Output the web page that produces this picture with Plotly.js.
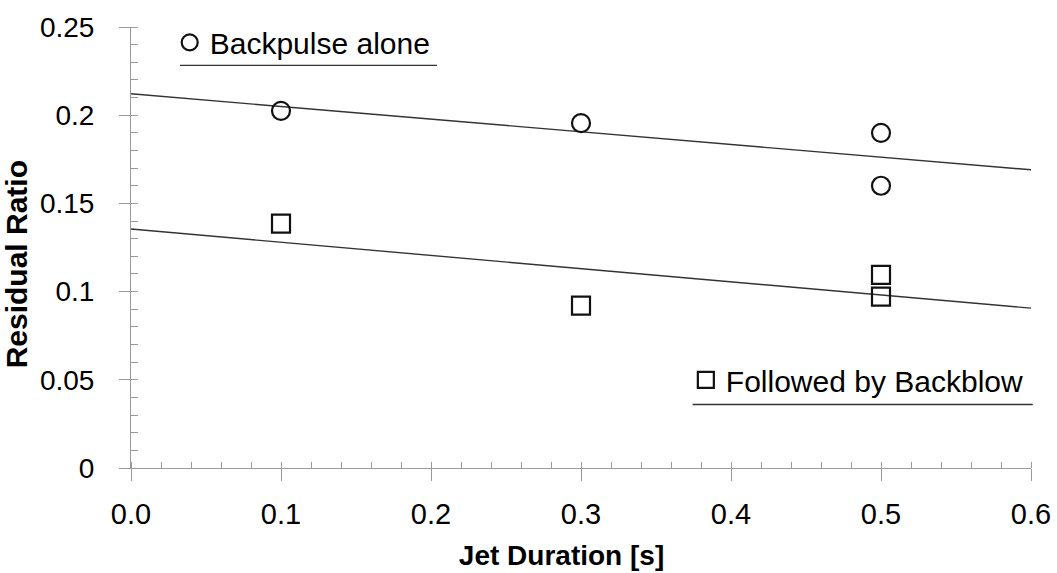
<!DOCTYPE html>
<html>
<head>
<meta charset="utf-8">
<script src="https://cdn.plot.ly/plotly-3.0.1.min.js"></script>
<style>
html, body { margin: 0; padding: 0; background: #fff; }
#chart { width: 1057px; height: 573px; }
</style>
</head>
<body>
<div id="chart"></div>
<script>
// ---- data ----
const jetDuration = [0.1, 0.3, 0.5, 0.5];
const backpulseAlone = [0.2025, 0.1955, 0.190, 0.160];
const jetDurationBB = [0.1, 0.3, 0.5, 0.5];
const followedByBackblow = [0.1385, 0.0920, 0.1095, 0.0972];
const seriesNames = ['Backpulse alone', 'Followed by Backblow'];
const trendX = [0.0, 0.6];

// least-squares trend line (as in the source chart)
function linFit(xs, ys) {
  const n = xs.length;
  const mx = xs.reduce((a, b) => a + b, 0) / n;
  const my = ys.reduce((a, b) => a + b, 0) / n;
  let sxy = 0, sxx = 0;
  for (let i = 0; i < n; i++) { sxy += (xs[i] - mx) * (ys[i] - my); sxx += (xs[i] - mx) ** 2; }
  const m = sxy / sxx, b = my - m * mx;
  return trendX.map(x => b + m * x);
}

const FONT = 'Liberation Sans, Arial, sans-serif';
const AX = '#9a9a9a';

const traces = [
  { x: trendX, y: linFit(jetDuration, backpulseAlone), mode: 'lines',
    line: { color: '#333', width: 1.4 }, showlegend: false, hoverinfo: 'skip' },
  { x: trendX, y: linFit(jetDurationBB, followedByBackblow), mode: 'lines',
    line: { color: '#333', width: 1.4 }, showlegend: false, hoverinfo: 'skip' },
  { x: jetDuration, y: backpulseAlone, mode: 'markers', name: seriesNames[0],
    marker: { symbol: 'circle-open', size: 18, color: '#111', line: { width: 2.2, color: '#111' } },
    legend: 'legend' },
  { x: jetDurationBB, y: followedByBackblow, mode: 'markers', name: seriesNames[1],
    marker: { symbol: 'square-open', size: 18, color: '#111', line: { width: 2.2, color: '#111' } },
    legend: 'legend2' }
];

const layout = {
  width: 1057, height: 573,
  margin: { l: 131, r: 26, t: 27, b: 105 },
  paper_bgcolor: '#fff', plot_bgcolor: '#fff',
  font: { family: FONT, color: '#000' },
  xaxis: {
    range: [0, 0.6], dtick: 0.1, tickformat: '.1f',
    showgrid: false, zeroline: false, showline: true, linecolor: AX, linewidth: 1,
    ticks: 'outside', ticklen: 12, tickcolor: AX, tickwidth: 1,
    minor: { ticks: 'inside', dtick: 0.02, ticklen: 6, tickcolor: AX, tickwidth: 1 },
    tickfont: { size: 29, family: FONT, color: '#000' }, ticklabelstandoff: 8,
    title: { text: '<b>Jet Duration [s]</b>&nbsp;&nbsp;&nbsp;&nbsp;&nbsp;', font: { size: 28, family: FONT, color: '#000' }, standoff: 16 }
  },
  yaxis: {
    range: [0, 0.25], dtick: 0.05,
    showgrid: false, zeroline: false, showline: true, linecolor: AX, linewidth: 1,
    ticks: 'outside', ticklen: 11, tickcolor: AX, tickwidth: 1,
    minor: { ticks: 'inside', dtick: 0.01, ticklen: 7, tickcolor: AX, tickwidth: 1 },
    tickfont: { size: 28, family: FONT, color: '#000' }, ticklabelstandoff: 19,
    title: { text: '<b>Residual Ratio</b>&nbsp;&nbsp;&nbsp;&nbsp;', font: { size: 30, family: FONT, color: '#000' }, standoff: 5 }
  },
  xaxis2: {
    overlaying: 'x', anchor: 'y', range: [0, 0.6], dtick: 0.1, showgrid: false, zeroline: false,
    showline: false, ticks: 'inside', ticklen: 6, tickcolor: AX, showticklabels: false
  },
  yaxis2: {
    overlaying: 'y', anchor: 'x', range: [0, 0.25], dtick: 0.05, showgrid: false, zeroline: false,
    showline: false, ticks: 'inside', ticklen: 7, tickcolor: AX, showticklabels: false
  },
  showlegend: true,
  legend: {
    x: 0.043, y: 0.965, xanchor: 'left', yanchor: 'middle',
    bgcolor: 'rgba(0,0,0,0)', borderwidth: 0,
    font: { size: 30, family: FONT, color: '#000' }
  },
  legend2: {
    x: 0.6165, y: 0.2, xanchor: 'left', yanchor: 'middle',
    bgcolor: 'rgba(0,0,0,0)', borderwidth: 0,
    font: { size: 30, family: FONT, color: '#000' }
  },
  shapes: [
    { type: 'line', xref: 'paper', yref: 'paper', x0: 0.0544, x1: 0.34, y0: 0.913, y1: 0.913,
      line: { color: '#333', width: 1.3 } },
    { type: 'line', xref: 'paper', yref: 'paper', x0: 0.624, x1: 1.002, y0: 0.144, y1: 0.144,
      line: { color: '#333', width: 1.3 } }
  ]
};

Plotly.newPlot('chart', traces, layout, { displayModeBar: false, staticPlot: true });
</script>
</body>
</html>
